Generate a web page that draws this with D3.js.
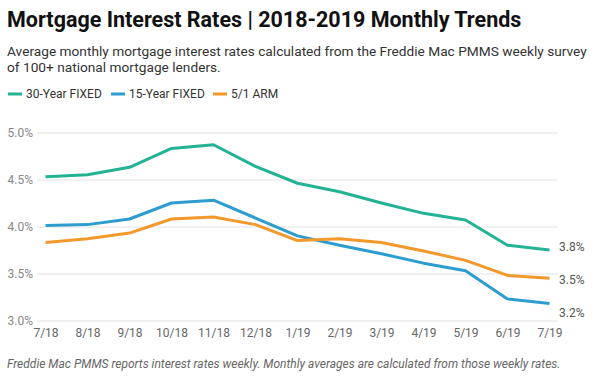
<!DOCTYPE html>
<html><head><meta charset="utf-8">
<script src="https://cdn.jsdelivr.net/npm/d3@7"></script>
<style>body{margin:0;background:#fff;} svg{display:block;font-family:Roboto,"Noto Sans",sans-serif;}</style>
</head><body>
<svg id="c" width="600" height="379"></svg>
<script>
const months = ["7/18","8/18","9/18","10/18","11/18","12/18","1/19","2/19","3/19","4/19","5/19","6/19","7/19"];
const fixed30 = [4.53,4.55,4.63,4.83,4.87,4.64,4.46,4.37,4.25,4.14,4.07,3.80,3.75];
const fixed15 = [4.01,4.02,4.08,4.25,4.28,4.09,3.90,3.80,3.71,3.61,3.53,3.23,3.18];
const arm51   = [3.83,3.87,3.93,4.08,4.10,4.02,3.85,3.87,3.83,3.74,3.64,3.48,3.45];
const yTicks = [3.0,3.5,4.0,4.5,5.0];
const seriesNames = ["30-Year FIXED","15-Year FIXED","5/1 ARM"];
const colors = ["#22b394","#2d9dd0","#f3982b"];
const endLabels = ["3.8%","3.5%","3.2%"];

const series = [fixed30, fixed15, arm51].map((v,i)=>({name:seriesNames[i], values:v, color:colors[i]}));
const svg = d3.select("#c");

svg.append("text").attr("x",7).attr("y",27).attr("font-size",21.5).attr("font-weight",700).attr("fill","#111")
  .text("Mortgage Interest Rates | 2018-2019 Monthly Trends");
svg.append("text").attr("x",7).attr("y",56).attr("font-size",13.7).attr("fill","#333")
  .text("Average monthly mortgage interest rates calculated from the Freddie Mac PMMS weekly survey");
svg.append("text").attr("x",7).attr("y",72).attr("font-size",13.7).attr("fill","#333")
  .text("of 100+ national mortgage lenders.");

// legend
const legX = [8,111,213];
series.forEach((s,i)=>{
  const g = svg.append("g").attr("transform",`translate(${legX[i]},94)`);
  g.append("line").attr("x1",0).attr("x2",14).attr("y1",0).attr("y2",0).attr("stroke",s.color).attr("stroke-width",3);
  g.append("text").attr("x",18).attr("y",4).attr("font-size",12).attr("fill","#333").text(s.name);
});

const x = d3.scalePoint().domain(months).range([45.5,549.5]);
const y = d3.scaleLinear().domain([3.0,5.0]).range([320.5,132.5]);

// grid
const yAxis = d3.axisLeft(y).tickValues(yTicks).tickFormat(d=>d.toFixed(1)+"%").tickSize(-(558-37)).tickPadding(4);
const ga = svg.append("g").attr("transform","translate(37,0)").call(yAxis);
ga.select(".domain").remove();
ga.selectAll(".tick line").attr("stroke","#e2e2e2").attr("stroke-width",1);
ga.selectAll(".tick text").attr("font-size",12).attr("fill","#888").attr("font-family","Roboto,sans-serif");

const xAxis = d3.axisBottom(x).tickSize(0).tickPadding(0);
const gx = svg.append("g").attr("transform","translate(0,328)").call(xAxis);
gx.select(".domain").remove();
gx.selectAll(".tick text").attr("font-size",12).attr("fill","#666").attr("font-family","Roboto,sans-serif");

const line = d3.line().x((d,i)=>x(months[i])).y(d=>y(d));
series.forEach(s=>{
  svg.append("path").datum(s.values).attr("d",line).attr("fill","none")
    .attr("stroke",s.color).attr("stroke-width",3).attr("stroke-linejoin","round");
});

// end labels with simple collision spacing
const order = [0,2,1];
let pos = order.map(i=>y(series[i].values[series[i].values.length-1]));
const gap = 33;
for(let k=0;k<20;k++){
  for(let j=1;j<pos.length;j++){
    if(pos[j]-pos[j-1]<gap){
      const m=(pos[j]+pos[j-1])/2; pos[j-1]=m-gap/2; pos[j]=m+gap/2;
    }
  }
}
pos.forEach((p,j)=>{
  svg.append("text").attr("x",559).attr("y",p+3).attr("dy","0.35em").attr("font-size",12).attr("fill","#555").text(endLabels[j]);
});

svg.append("text").attr("x",7).attr("y",368).attr("font-size",12).attr("font-style","italic").attr("fill","#666")
  .text("Freddie Mac PMMS reports interest rates weekly. Monthly averages are calculated from those weekly rates.");
</script>
</body></html>
